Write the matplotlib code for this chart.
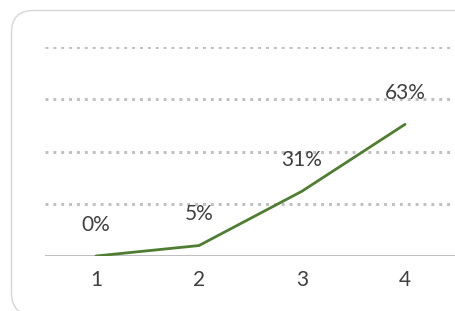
import matplotlib
matplotlib.use("Agg")
import matplotlib.pyplot as plt
from matplotlib.patches import FancyBboxPatch
from matplotlib.transforms import IdentityTransform

categories = ["1", "2", "3", "4"]
values = [0, 5, 31, 63]
labels = ["0%", "5%", "31%", "63%"]
grid_levels = [25, 50, 75, 100]

plt.rcParams['font.family'] = ['Lato', 'DejaVu Sans']

W, H = 455, 311
fig = plt.figure(figsize=(W / 100, H / 100), dpi=100)
fig.patch.set_facecolor("white")

# rounded chart border (runs off the right/bottom edge like the crop)
border = FancyBboxPatch((11.5, -4), 470, 304.5, boxstyle="round,pad=0,rounding_size=22",
                        transform=IdentityTransform(), facecolor="none",
                        edgecolor="#d6d6d6", linewidth=1.0)
fig.patches.append(border)

ax = fig.add_axes([44.5 / W, (H - 256) / H, 412 / W, 209 / H])
ax.set_facecolor("none")
x = list(range(1, len(categories) + 1))

for g in grid_levels:
    ax.axhline(g, color="#bfbfbf", lw=2.1, linestyle=(0, (1, 1.7)), zorder=1)
ax.axhline(0, color="#b3b3b3", lw=1.2, zorder=2)

ax.plot(x, values, color="#4f7d32", lw=2.0, solid_capstyle="round", zorder=3)

for xi, v, lab in zip(x, values, labels):
    ax.annotate(lab, (xi, v), xytext=(0, 22.5), textcoords="offset points",
                ha="center", va="center", fontsize=15, color="#404040")

ax.set_xlim(0.5, 4.5)
ax.set_ylim(0, 100)
ax.set_xticks(x)
ax.set_xticklabels(categories, fontsize=15, color="#404040")
ax.set_yticks([])
ax.tick_params(axis="x", length=0, pad=10)
for s in ax.spines.values():
    s.set_visible(False)

fig.savefig("out.png", dpi=100)
